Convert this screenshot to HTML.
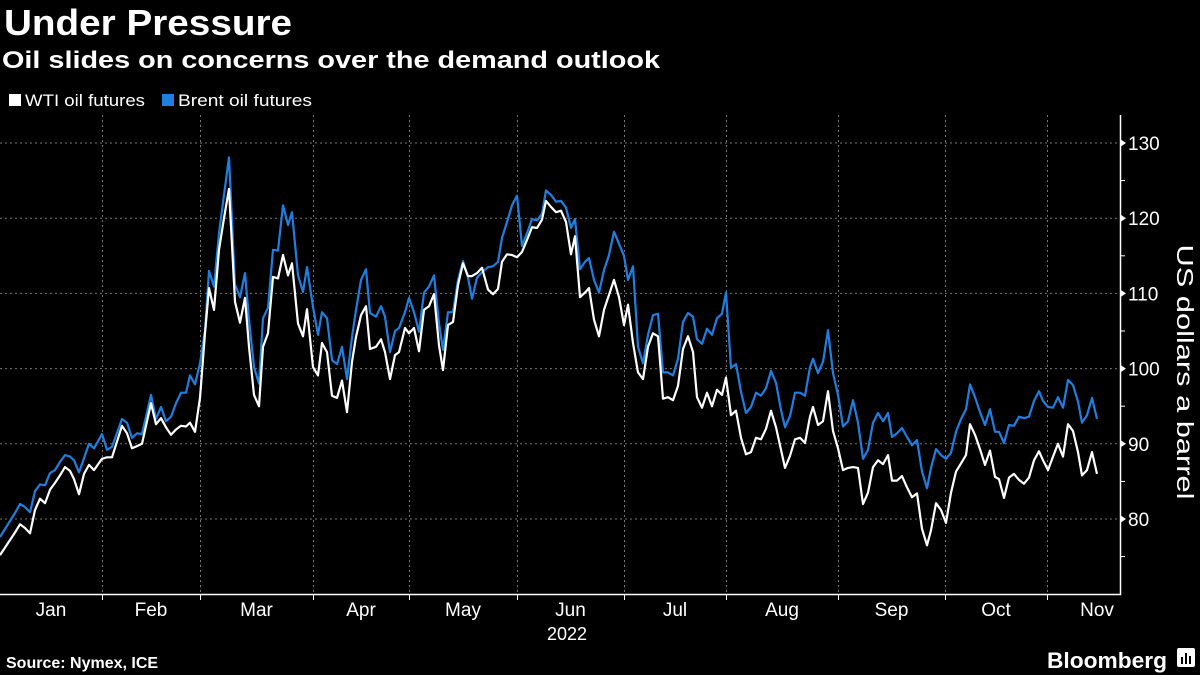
<!DOCTYPE html>
<html><head><meta charset="utf-8"><style>
html,body{margin:0;padding:0;background:#000;}
body{width:1200px;height:675px;overflow:hidden;position:relative;font-family:"Liberation Sans",sans-serif;color:#fff;}
</style></head><body>
<svg width="1200" height="675" viewBox="0 0 1200 675" xmlns="http://www.w3.org/2000/svg" style="position:absolute;left:0;top:0;font-family:'Liberation Sans',sans-serif">
<rect width="1200" height="675" fill="#000"/>
<text x="4" y="35" font-size="36" font-weight="bold" fill="#fff" textLength="288" lengthAdjust="spacingAndGlyphs">Under Pressure</text>
<text x="2" y="68" font-size="24" font-weight="bold" fill="#fff" textLength="658" lengthAdjust="spacingAndGlyphs">Oil slides on concerns over the demand outlook</text>
<g>
<g><rect x="9" y="94" width="12" height="12" fill="#fff"/><text x="25" y="106" font-size="17" fill="#fff" textLength="120" lengthAdjust="spacingAndGlyphs">WTI oil futures</text></g>
<g><rect x="162" y="94" width="12" height="12" fill="#1f7fe0"/><text x="178" y="106" font-size="17" fill="#fff" textLength="134" lengthAdjust="spacingAndGlyphs">Brent oil futures</text></g>
</g>
<g id="grid"></g>
<g id="series"></g>
<g id="axes"></g>
<text transform="translate(1177,372) rotate(90)" text-anchor="middle" font-size="23" fill="#fff" textLength="255" lengthAdjust="spacingAndGlyphs">US dollars a barrel</text>
<text x="567" y="640" text-anchor="middle" font-size="18" fill="#fff">2022</text>
<text x="6" y="668" font-size="16" font-weight="bold" fill="#fff">Source: Nymex, ICE</text>
<text x="1047" y="668" font-size="22" font-weight="bold" fill="#fff" textLength="120" lengthAdjust="spacingAndGlyphs">Bloomberg</text>
<g><rect x="1177" y="648" width="18" height="19" rx="2" fill="#fff"/><rect x="1181" y="657" width="2" height="7" fill="#000"/><rect x="1185" y="653" width="2" height="11" fill="#000"/><rect x="1189" y="656" width="2" height="8" fill="#000"/></g>
</svg>
<script>
const tradingDay=[0,3,4,5,6,7,8,9,10,11,12,13,14,14.8,15.8,16.8,17.8,18.8,20.4,21.4,22.4,24.4,25.4,26.4,27.4,28.4,30.2,31.2,32.2,33.2,34.2,35.2,36.2,37.2,38,39,40,41,41.8,42.8,43.8,44.8,45.8,47,48,49,49.8,50.8,51.8,52.6,53.6,54.6,55.6,
56.6,57.6,58.4,59.6,60.6,61.4,62.6,63.6,64.4,65.4,66.4,67.4,68.4,69.4,70.4,71.2,72.2,73.2,74,75.2,76.2,77,78,79,79.8,81,81.8,82.8,83.8,84.8,85.8,86.8,87.8,88.6,89.6,90.6,91.6,92.6,93.6,94.4,95.4,96.4,97.6,98.6,99.6,100.4,101.4,102.4,103.4,104.4,105.4,106.4,107.4,108.4,
109.2,110.2,111.2,112.2,113.2,114.2,115,116,117,117.8,118.8,119.8,120.8,121.8,122.8,123.8,124.8,125.6,126.6,127.6,128.6,129.6,130.6,131.6,132.6,133.6,134.6,135.6,136.6,137.6,138.6,139.4,140.4,141.4,142.4,143.4,144.4,145.2,146.2,147.2,148.2,149.2,150.2,151.2,152.2,153.2,154.2,155.2,156.2,157,158,159,160,161,
162,162.6,163.6,164.6,165.6,166.6,167.6,168.6,169.6,170.6,171.6,172.6,173.6,174.6,175.6,176.6,177.6,178.4,179.4,180.4,181.4,182.4,183.4,184.4,185.4,186.2,187.2,188.2,189.2,190.2,191.2,192.2,193.2,194,195,196,197,198,199,199.8,200.8,201.8,202.8,203.8,204.8,205.8,206.8,207.8,208.6,209.6,210.6,211.6,212.6,213.6,214.6,215.6,216.4,217.4,218.4,219.4];
const brent=[77.6,80.8,82.0,81.6,80.9,83.7,84.6,84.5,86.1,86.5,87.6,88.5,88.3,87.8,86.2,88.1,90.0,89.4,91.3,89.2,89.6,93.3,92.8,90.8,91.4,91.3,96.5,93.3,94.9,93.0,93.6,95.4,96.8,96.8,99.1,97.9,100.7,105.1,113.0,110.9,118.0,123.1,128.1,111.2,109.5,112.7,106.5,100.2,98.0,106.7,108.1,115.8,115.7,
121.7,119.1,120.8,112.4,110.2,113.5,108.2,104.5,107.5,106.7,101.1,100.6,102.9,98.6,104.2,107.8,111.8,113.2,107.4,106.9,108.3,106.9,102.2,105.0,105.4,107.5,109.4,107.5,104.9,110.1,110.9,112.4,106.0,102.5,107.5,107.5,111.8,114.3,112.1,109.3,112.1,112.8,113.5,113.6,114.2,117.4,119.5,121.7,123.0,116.3,118.0,119.9,119.7,120.6,
123.7,123.1,122.2,122.3,121.4,118.7,119.9,113.2,114.2,114.7,111.8,110.1,113.1,115.1,118.2,116.6,115.0,111.8,113.6,102.9,100.7,104.5,107.1,107.3,99.5,99.5,99.1,101.3,106.2,107.4,106.9,103.9,103.3,105.3,104.5,106.7,107.3,110.1,100.1,100.6,96.9,94.1,94.9,96.8,96.4,97.4,99.7,98.1,94.5,92.2,93.7,96.8,96.8,96.4,
100.2,101.3,99.4,100.9,105.1,99.4,96.5,92.3,93.0,95.8,92.8,88.0,89.2,92.8,94.1,93.0,94.1,90.9,91.4,92.1,90.9,89.8,90.5,86.3,84.1,86.8,89.3,88.5,88.0,88.8,91.6,93.3,94.6,97.9,96.2,94.2,92.5,94.6,91.6,91.6,90.1,92.5,92.4,93.6,93.4,93.6,95.7,97.0,95.7,94.9,94.8,96.2,94.8,98.5,97.8,95.6,92.8,93.8,96.1,93.3];
const wti=[75.2,78.2,79.3,78.8,78.1,81.2,82.7,82.1,83.9,84.8,85.8,86.9,86.4,85.3,83.3,86.0,87.2,86.5,88.0,88.2,88.2,92.4,91.4,89.4,89.7,90.0,95.4,92.6,93.4,92.2,91.2,91.9,92.4,92.3,92.8,91.6,96.1,104.7,110.7,107.8,115.8,120.0,123.9,108.9,106.1,109.4,102.9,96.5,95.0,102.9,104.7,112.2,112.0,
115.1,112.4,114.0,106.0,104.3,107.9,100.2,99.1,103.4,102.2,96.4,96.1,98.4,94.2,100.9,104.2,107.1,108.3,102.6,102.9,103.9,102.2,98.6,101.8,102.2,105.4,104.7,105.4,102.3,107.8,108.3,109.9,103.1,99.8,105.8,106.2,111.1,114.0,112.3,112.3,112.7,113.4,110.5,109.9,110.6,114.2,115.2,115.1,114.8,115.5,117.1,118.8,118.7,119.8,
122.3,121.5,120.8,121.0,119.5,115.2,117.6,109.5,110.1,110.7,106.5,104.3,107.8,109.8,111.8,109.5,105.8,108.5,103.4,99.5,98.6,102.9,104.7,104.3,96.0,96.2,95.8,97.7,102.6,104.3,102.2,96.2,94.8,96.8,95.0,97.2,96.5,98.8,93.8,94.4,90.8,88.6,88.9,90.8,90.6,92.0,94.4,92.2,89.2,86.8,88.4,90.6,90.8,90.1,
93.6,94.9,92.5,93.0,97.0,91.7,89.4,86.5,86.8,86.9,86.8,82.0,83.5,86.9,87.8,87.3,88.5,85.1,85.1,85.7,84.2,82.9,83.4,78.7,76.5,78.5,82.1,81.2,79.5,83.5,86.3,87.4,88.5,92.6,91.2,89.3,87.2,89.1,85.6,85.3,82.8,85.5,86.0,85.2,84.7,85.5,87.8,89.0,87.8,86.5,88.3,90.0,88.3,92.6,91.7,88.9,85.8,86.5,88.9,86.0];
const monthStartDay=[0,20.4,40,62.6,81.8,103.4,124.8,145.2,167.6,189,209.4,229.4];
const monthLabels=["Jan","Feb","Mar","Apr","May","Jun","Jul","Aug","Sep","Oct","Nov"];
const yTicks=[80,90,100,110,120,130];
const yMinor=[75,85,95,105,115,125];

const NS="http://www.w3.org/2000/svg";
const X0=0,X1=1097,D0=0,D1=219.4;
const xS=d=>X0+(d-D0)/(D1-D0)*(X1-X0);
const yS=v=>143+(130-v)*7.52;
const AX=1120,AY=594,TOP=115;
function mk(tag,attrs,parent){const e=document.createElementNS(NS,tag);for(const k in attrs)e.setAttribute(k,attrs[k]);parent.appendChild(e);return e;}
const grid=document.getElementById('grid'),axes=document.getElementById('axes'),series=document.getElementById('series');
yTicks.forEach(v=>{
  const l=mk('line',{x1:0,x2:AX,y1:yS(v),y2:yS(v),stroke:'#777','stroke-width':1,'stroke-dasharray':'2,3'},grid);
  
  
  const p=mk('path',{d:`M${AX} ${yS(v)-4}L${AX+6} ${yS(v)}L${AX} ${yS(v)+4}Z`,fill:'#fff'},axes);
  
  
  const t=mk('text',{x:AX+8,y:yS(v)+7,'font-size':19,fill:'#fff'},axes);
  t.textContent=v;
  
  
});
yMinor.forEach(v=>{
  const l=mk('line',{x1:AX,x2:AX+5,y1:yS(v),y2:yS(v),stroke:'#fff','stroke-width':1},axes);
  
  
});
monthStartDay.slice(1,11).forEach(d=>{
  const x=Math.round(xS(d))+0.5;
  const l=mk('line',{x1:x,x2:x,y1:TOP,y2:AY,stroke:'#777','stroke-width':1,'stroke-dasharray':'2,3'},grid);
  
  
  const t=mk('line',{x1:x,x2:x,y1:AY,y2:AY+6,stroke:'#fff','stroke-width':1},axes);
  
  
});
monthLabels.forEach((m,i)=>{
  const cx=(xS(monthStartDay[i])+xS(monthStartDay[i+1]))/2;
  const t=mk('text',{x:cx,y:616,'text-anchor':'middle','font-size':19,fill:'#fff'},axes);
  t.textContent=m;
  
  
});
const ax=mk('path',{d:`M0 ${AY+0.5}H${AX+0.5}V${TOP}`,stroke:'#fff','stroke-width':1.5,fill:'none'},axes);


function line(vals,color,name){
  const d=vals.map((v,i)=>(i?'L':'M')+xS(tradingDay[i]).toFixed(1)+' '+yS(v).toFixed(1)).join('');
  const p=mk('path',{d:d,stroke:color,'stroke-width':2.2,fill:'none','stroke-linejoin':'round'},series);
  
  
}
line(brent,'#1f7fe0','brent-line');
line(wti,'#ffffff','wti-line');
</script>
</body></html>
